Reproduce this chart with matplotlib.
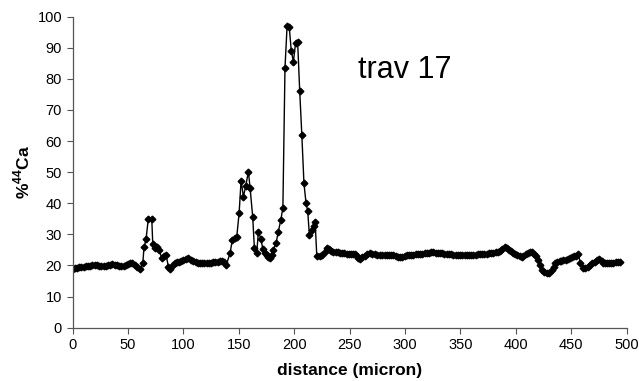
import matplotlib
matplotlib.use("Agg")
import matplotlib.pyplot as plt

plt.rcParams["font.family"] = ["Liberation Sans", "DejaVu Sans"]
plt.rcParams["mathtext.fontset"] = "custom"
plt.rcParams["mathtext.rm"] = "Liberation Sans:bold"
plt.rcParams["mathtext.bf"] = "Liberation Sans:bold"

# traverse 17: distance (micron) and %44Ca
distance = [
    0, 2, 4, 6, 8, 10, 12, 14, 16, 18, 20, 22, 24, 26, 28, 30, 32, 34, 36, 38,
    40, 42, 44, 46, 48, 50, 52, 54, 56, 58, 60.9,
    63.4, 64.5, 66.3, 68.4, 71.5, 72.4, 74.5, 76, 78.3, 80.5, 82.5, 84.4, 86.5, 88,
    90.3, 92.5, 94.5, 96.5, 98.3, 100, 102.3, 104.5, 106.8, 109,
    111, 113, 115, 117, 119, 121, 123, 125, 127, 129, 131, 133, 135, 137, 138.8,
    142.1, 144.2, 146.2, 148.2, 150.3, 152.1, 154.2, 156.3, 158.7, 160.2, 162.6,
    164.1, 166.2, 167.7, 170.1, 171.7, 173.5, 175.3, 176.8, 178.2, 179.7, 181.2,
    183.7, 185.7, 187.9, 189.8, 191.7, 193.6, 195.5, 197.4, 199.3, 201.2, 203.1,
    205, 206.9, 208.8, 210.7, 212.2, 213.7, 215.9, 217.5, 218.9, 220.4, 223.4,
    225.4, 227.4, 229.4, 231.4, 233.4, 235.4, 237.4, 239.4, 241.4, 243.4, 245.4,
    247.4, 249.4, 251.4, 253.4, 255, 256.5, 258, 259.5, 261.5, 263.5, 265.5, 268.5,
    270.5, 272.5, 274.5, 277.5, 279.5, 281.5, 283.5, 285.5, 287.5, 289.5, 291.5,
    293.5, 295.6, 297.6, 299.6, 301.6, 303.6, 305.6, 307.6, 309.6, 311.6, 313.6,
    315.6, 317.6, 319.6, 321.6, 323.6, 325.6, 327.6, 329.6, 331.6, 333.6, 335.6,
    337.6, 339.6, 341.7, 343.7, 345.7, 347.7, 349.7, 351.7, 353.7, 355.7, 357.7,
    359.7, 361.7, 363.7, 365.7, 367.7, 369.7, 371.7, 373.7, 375.7, 377.8, 379.8,
    381.8, 383.8, 385.8, 387.8, 389.9, 391.9, 393.9, 395.9, 397.4, 399.4, 401.4,
    403.4, 405.4, 406.9, 408.9, 410.9, 412.9, 414.4, 416.3, 418.3, 420.4, 422,
    423.5, 425.5, 428, 430, 432.5, 434, 435.5, 437.5, 439.5, 441, 443, 445, 447,
    448.8, 450.5, 452.5, 454.5, 456.5, 458.1, 460.5, 462.5, 464.8, 467.1, 469,
    471, 473, 475.2, 477.3, 479, 480.6, 482.5, 484.5, 486.3, 488.1, 490, 492, 494.1,
]

pct_ca = [
    19.0, 19.1, 19.2, 19.4, 19.5, 19.6, 19.7, 19.8, 19.9, 20.0, 20.0, 20.0, 19.9,
    19.8, 19.8, 19.9, 20.0, 20.2, 20.4, 20.3, 20.0, 19.8, 19.7, 19.8, 20.0, 20.5,
    20.9, 20.8, 20.3, 19.6, 18.8,
    20.7, 25.8, 28.4, 35.0, 35.0, 26.9, 25.5, 26.0, 25.0, 22.3, 23.0, 23.4, 19.6,
    19.0, 20.0, 20.9, 21.0, 21.2, 21.5, 21.8, 22.0, 22.3, 21.8, 21.3,
    21.0, 20.9, 20.9, 20.9, 20.9, 20.9, 20.9, 20.9, 21.0, 21.1, 21.2, 21.4, 21.5,
    21.2, 20.3,
    23.9, 28.2, 28.8, 29.3, 36.8, 47.3, 42.1, 45.6, 50.2, 45.0, 35.5,
    25.5, 23.9, 30.9, 28.4, 25.2, 24.0, 23.4, 22.6, 22.3, 23.5, 25.0,
    27.3, 30.9, 34.6, 38.5, 83.5, 97.0, 96.8, 89.0, 85.5, 91.5, 92.0,
    76.0, 62.0, 46.5, 40.0, 37.5, 29.8, 31.4, 32.8, 34.1, 23.1, 22.9,
    23.5, 24.5, 25.5, 25.3, 24.8, 24.4, 24.3, 24.2, 24.1, 24.0, 23.9,
    23.8, 23.8, 23.8, 23.7, 23.8, 23.0, 22.3, 22.0, 22.6, 23.2, 23.6, 23.9,
    23.7, 23.6, 23.5, 23.4, 23.3, 23.3, 23.4, 23.4, 23.4, 23.4, 23.0,
    22.8, 22.6, 22.8, 23.1, 23.4, 23.4, 23.5, 23.5, 23.6, 23.6, 23.7,
    23.8, 23.9, 24.0, 24.1, 24.2, 24.2, 24.1, 24.1, 24.0, 23.9, 23.8,
    23.7, 23.6, 23.6, 23.5, 23.5, 23.5, 23.5, 23.5, 23.5, 23.5, 23.5,
    23.5, 23.5, 23.5, 23.6, 23.6, 23.7, 23.7, 23.8, 23.9, 24.0, 24.1,
    24.2, 24.5, 24.8, 25.3, 25.8, 25.6, 25.0, 24.6, 24.1, 23.8, 23.4,
    23.0, 22.8, 23.2, 23.7, 24.1, 24.4, 24.2, 23.7, 23.0, 21.8, 20.2,
    18.6, 17.8, 17.5, 17.7, 18.6, 19.6, 20.7, 21.0, 21.3, 21.5, 21.7, 21.9, 22.2,
    22.4, 22.6, 22.9, 23.2, 23.6, 20.7, 19.1, 19.1, 19.4, 20.1, 20.8,
    21.2, 21.7, 22.0, 21.4, 20.9, 20.8, 20.7, 20.7, 20.7, 20.8, 21.0, 21.2, 21.2,
]

fig = plt.figure(figsize=(6.39, 3.81), dpi=100)
ax = fig.add_axes([0.1135, 0.1399, 0.8672, 0.8163])

ax.plot(distance, pct_ca, color="black", linewidth=1.0,
        marker="D", markersize=3.4, markerfacecolor="black",
        markeredgecolor="black")

ax.set_xlim(0, 500)
ax.set_ylim(0, 100)
ax.set_xticks(range(0, 501, 50))
ax.set_yticks(range(0, 101, 10))
ax.tick_params(direction="out", length=4, width=0.8, labelsize=10.5,
               colors="black")
for s in ["top", "right"]:
    ax.spines[s].set_visible(False)
for s in ["left", "bottom"]:
    ax.spines[s].set_color("#555555")
    ax.spines[s].set_linewidth(0.9)
ax.tick_params(color="#555555")

ax.set_xlabel("distance (micron)", fontsize=12.5, fontweight="bold",
              labelpad=8)
ax.set_ylabel(r"%$^{\mathbf{44}}$Ca", fontsize=12.5, fontweight="bold",
              labelpad=4)

ax.text(258, 83, "trav 17", fontsize=22, va="center", ha="left")

fig.savefig("out.png", dpi=100)
